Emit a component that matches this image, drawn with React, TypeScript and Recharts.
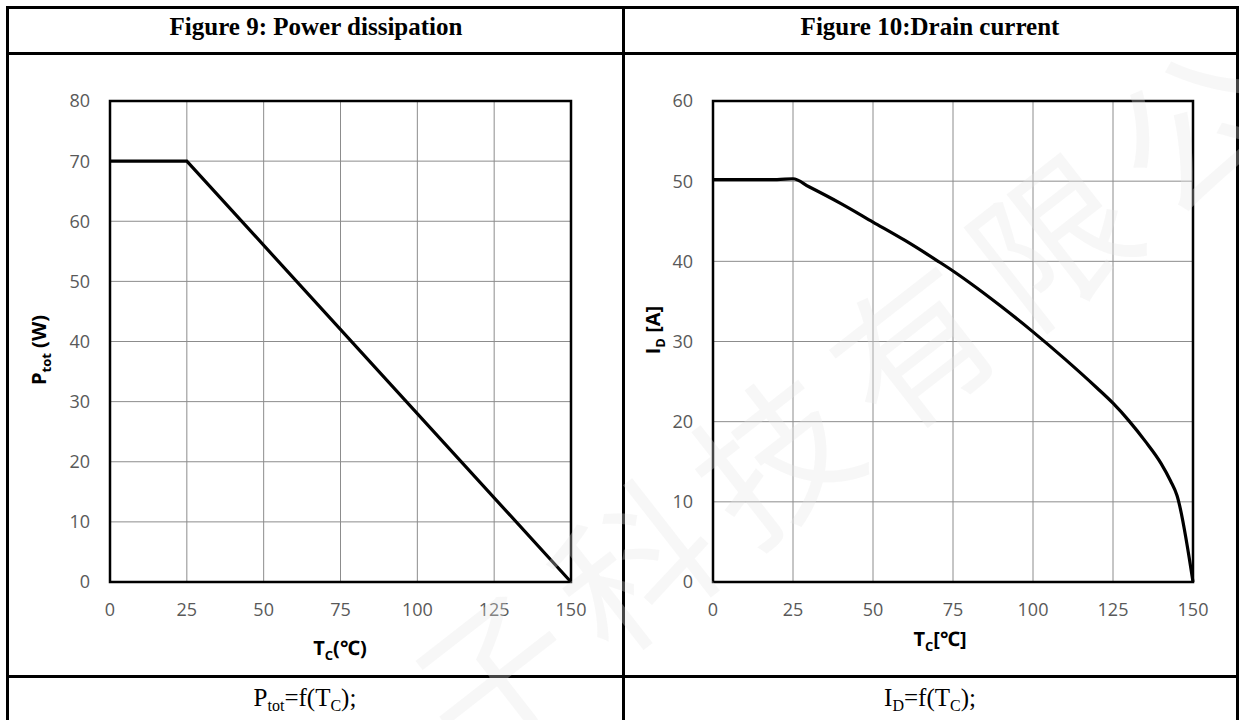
import { LineChart, Line, XAxis, YAxis, CartesianGrid, ReferenceArea } from "recharts";

// Figure 9: power dissipation vs case temperature
const powerTemps = [0, 25, 150];
const powerValues = [70, 70, 0];

// Figure 10: drain current vs case temperature
const currentTemps = [0, 20, 25, 30, 40, 50, 60, 70, 75, 80, 90, 100, 110, 120, 125, 130, 135, 140, 143, 145, 150];
const currentValues = [50.2, 50.2, 50.3, 49.3, 47.2, 44.9, 42.6, 40.1, 38.8, 37.4, 34.4, 31.2, 27.8, 24.2, 22.3, 20.1, 17.6, 14.8, 12.6, 10.8, 0];

const tempTicks = [0, 25, 50, 75, 100, 125, 150];
const powerTicks = [0, 10, 20, 30, 40, 50, 60, 70, 80];
const currentTicks = [0, 10, 20, 30, 40, 50, 60];

const powerData = powerTemps.map((t, i) => ({ t, v: powerValues[i] }));
const currentData = currentTemps.map((t, i) => ({ t, v: currentValues[i] }));

const tickStyle = { fontSize: 18, fill: "#595959", fontFamily: "'Open Sans', sans-serif" };
const serif = "'Liberation Serif', 'Times New Roman', serif";
const sans = "'Open Sans', 'Noto Sans', sans-serif";

function Rule({ x, y, w, h }: { x: number; y: number; w: number; h: number }) {
  return <div style={{ position: "absolute", left: x, top: y, width: w, height: h, background: "#000" }} />;
}

function DeratingChart({ data, yTicks, yMax, yAxisWidth, width, marginRight, curve }: any) {
  return (
    <LineChart width={width} height={620} data={data} margin={{ top: 41, right: marginRight, bottom: 0, left: 0 }}>
      <CartesianGrid stroke="#8c8c8c" strokeWidth={1} />
      <XAxis
        type="number"
        dataKey="t"
        domain={[0, 150]}
        ticks={tempTicks}
        axisLine={false}
        tickLine={false}
        tickSize={0}
        tickMargin={21}
        height={98}
        tick={tickStyle}
        interval={0}
      />
      <YAxis
        type="number"
        domain={[0, yMax]}
        ticks={yTicks}
        axisLine={false}
        tickLine={false}
        tickSize={0}
        tickMargin={20}
        width={yAxisWidth}
        tick={tickStyle}
        interval={0}
      />
      <ReferenceArea x1={0} x2={150} y1={0} y2={yMax} fill="none" stroke="#000" strokeWidth={2.5} ifOverflow="visible" />
      <Line
        type={curve}
        dataKey="v"
        stroke="#000"
        strokeWidth={3.2}
        dot={false}
        isAnimationActive={false}
      />
    </LineChart>
  );
}

export default function App() {
  return (
    <div style={{ position: "absolute", left: 0, top: 0, width: 1239, height: 720, background: "#fff", overflow: "hidden" }}>
      <div style={{ position: "absolute", left: 0, top: 60 }}>
        <DeratingChart data={powerData} yTicks={powerTicks} yMax={80} yAxisWidth={110} width={620} marginRight={49} curve="linear" />
      </div>
      <div style={{ position: "absolute", left: 620, top: 60 }}>
        <DeratingChart data={currentData} yTicks={currentTicks} yMax={60} yAxisWidth={93} width={619} marginRight={46} curve="monotone" />
      </div>

      {/* table rules */}
      <Rule x={6} y={6} w={1233} h={3} />
      <Rule x={6} y={6} w={3} h={720} />
      <Rule x={1236} y={6} w={3} h={720} />
      <Rule x={622} y={6} w={3} h={720} />
      <Rule x={6} y={52} w={1233} h={3} />
      <Rule x={6} y={675} w={1233} h={3} />

      <svg width={1239} height={720} style={{ position: "absolute", left: 0, top: 0, pointerEvents: "none" }}>
        <text x={316} y={35} textAnchor="middle" fontFamily={serif} fontWeight="bold" fontSize={25} fill="#000">
          Figure 9: Power dissipation
        </text>
        <text x={930} y={35} textAnchor="middle" fontFamily={serif} fontWeight="bold" fontSize={25} fill="#000">
          Figure 10:Drain current
        </text>

        <text x={340} y={655} textAnchor="middle" fontFamily={sans} fontWeight="bold" fontSize={20} fill="#000">
          T<tspan dy={5} fontSize={13}>C</tspan>
          <tspan dy={-5}>(℃)</tspan>
        </text>
        <text x={940} y={646} textAnchor="middle" fontFamily={sans} fontWeight="bold" fontSize={20} fill="#000">
          T<tspan dy={5} fontSize={13}>C</tspan>
          <tspan dy={-5}>[℃]</tspan>
        </text>

        <text x={46} y={350} transform="rotate(-90 46 350)" textAnchor="middle" fontFamily={sans} fontWeight="bold" fontSize={20} fill="#000">
          P<tspan dy={5} fontSize={13}>tot</tspan>
          <tspan dy={-5}> (W)</tspan>
        </text>
        <text x={660} y={330} transform="rotate(-90 660 330)" textAnchor="middle" fontFamily={sans} fontWeight="bold" fontSize={20} fill="#000">
          I<tspan dy={5} fontSize={13}>D</tspan>
          <tspan dy={-5}> [A]</tspan>
        </text>

        <text x={305} y={706} textAnchor="middle" fontFamily={serif} fontSize={25} fill="#000">
          P<tspan dy={5} fontSize={16}>tot</tspan>
          <tspan dy={-5}>=f(T</tspan>
          <tspan dy={5} fontSize={16}>C</tspan>
          <tspan dy={-5}>);</tspan>
        </text>
        <text x={930} y={706} textAnchor="middle" fontFamily={serif} fontSize={25} fill="#000">
          I<tspan dy={5} fontSize={16}>D</tspan>
          <tspan dy={-5}>=f(T</tspan>
          <tspan dy={5} fontSize={16}>C</tspan>
          <tspan dy={-5}>);</tspan>
        </text>

        {/* faint company watermark */}
        <text
          x={925}
          y={400}
          transform="rotate(-38 925 345)"
          textAnchor="middle"
          fontFamily="'Noto Sans CJK SC', sans-serif"
          fontWeight={400}
          fontSize={155}
          letterSpacing={22}
          fill="#e6e6e6"
          fillOpacity={0.3}
        >
          子科技有限公司
        </text>
      </svg>
    </div>
  );
}
